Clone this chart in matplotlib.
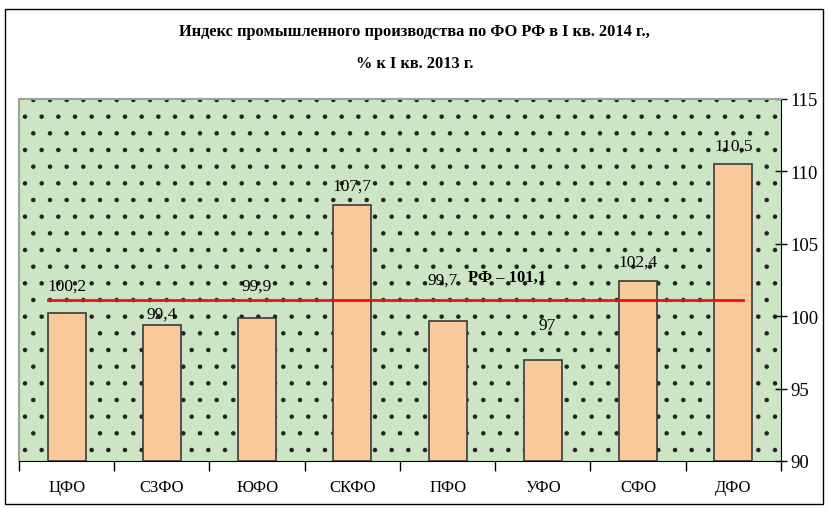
import numpy as np
import matplotlib.pyplot as plt
from matplotlib.patches import Rectangle

plt.rcParams['font.family'] = ['Liberation Serif', 'DejaVu Serif']
plt.rcParams['hatch.linewidth'] = 0.8

# data
regions = ['ЦФО', 'СЗФО', 'ЮФО', 'СКФО', 'ПФО', 'УФО', 'СФО', 'ДФО']
values = [100.2, 99.4, 99.9, 107.7, 99.7, 97.0, 102.4, 110.5]
value_labels = ['100,2', '99,4', '99,9', '107,7', '99,7', '97', '102,4', '110,5']
rf_value = 101.1
rf_label = 'РФ – 101,1'
title = 'Индекс промышленного производства по ФО РФ в I кв. 2014 г.,\n% к I кв. 2013 г.'

# label placement (style only)
label_dy = [1.9, 0.8, 2.2, 1.35, 2.8, 2.4, 1.4, 1.3]
label_dx = [0, 0, 0, 0, -0.05, 0.04, 0, 0]

fig = plt.figure(figsize=(8.29, 5.10), dpi=100)
fig.patches.append(Rectangle((5 / 829, 5 / 510), 818 / 829, 495 / 510, transform=fig.transFigure,
                             fill=False, edgecolor='black', linewidth=1.0))
ax = fig.add_axes([19 / 829, 1 - 462 / 510, 762 / 829, 362 / 510])

x = np.arange(len(regions))
ax.set_xlim(-0.5, len(regions) - 0.5)
ax.set_ylim(90, 115)

bg = Rectangle((0, 0), 1, 1, transform=ax.transAxes, facecolor='#cce5c5',
               edgecolor='#222222', hatch='.', linewidth=0, zorder=0)
ax.add_patch(bg)
ax.patch.set_visible(False)

ax.bar(x, np.array(values) - 90, bottom=90, width=0.4, color='#f9c99a',
       edgecolor='#3a3a3a', linewidth=1.2, zorder=2)

ax.plot([-0.2, 7.1], [rf_value, rf_value], color='#ee1111', linewidth=2, zorder=3)
ax.text(4.62, rf_value + 1.6, rf_label, ha='center', va='center',
        fontsize=12, fontweight='bold', zorder=4)

for i, (v, lab) in enumerate(zip(values, value_labels)):
    ax.text(x[i] + label_dx[i], v + label_dy[i], lab, ha='center', va='center',
            fontsize=12.5, zorder=4)

ax.yaxis.tick_right()
ax.set_yticks(np.arange(90, 116, 5))
ax.tick_params(axis='y', direction='inout', length=9, width=1, labelsize=13.5, pad=2)
ax.set_xticks(np.arange(-0.5, len(regions), 1))
ax.set_xticklabels([])
ax.set_xticks(x, minor=True)
ax.set_xticklabels(regions, minor=True, fontsize=12)
ax.tick_params(axis='x', which='major', direction='out', length=7, width=1)
ax.tick_params(axis='x', which='minor', length=0, pad=13)

for side in ['left', 'top']:
    ax.spines[side].set_color('#a0a0a0')
    ax.spines[side].set_linewidth(1.5)
ax.spines['right'].set_color('black')
ax.spines['bottom'].set_color('black')

fig.text(0.5, 1 - 48 / 510, title, ha='center', va='center', fontsize=11.8,
         fontweight='bold', linespacing=2.3)

fig.savefig('out.png', dpi=100)
